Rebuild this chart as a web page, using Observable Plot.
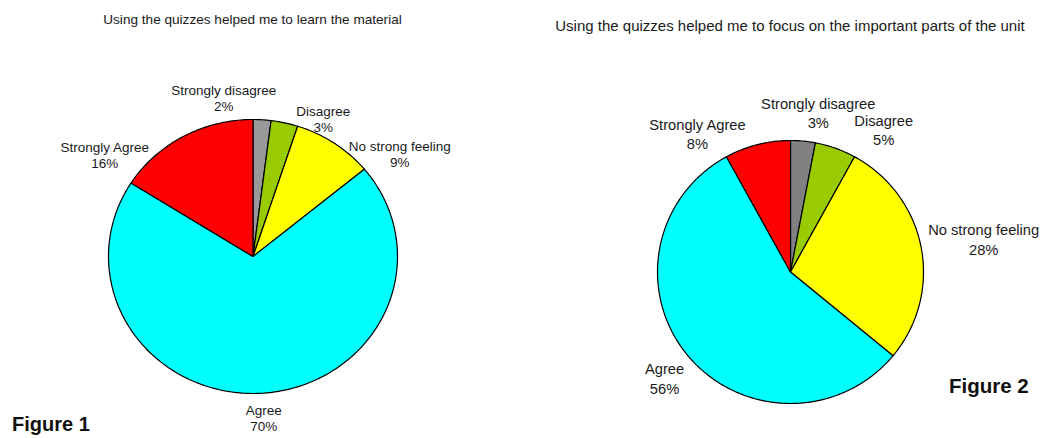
<!DOCTYPE html>
<html>
<head>
<meta charset="utf-8">
<script src="https://cdn.jsdelivr.net/npm/d3@7"></script>
<script src="https://cdn.jsdelivr.net/npm/@observablehq/plot@0.6"></script>
<style>
  html, body { margin: 0; padding: 0; background: #fff; }
  #root { position: relative; width: 1041px; height: 438px; overflow: hidden; font-family: "Liberation Sans", Arial, sans-serif; }
  .fig { position: absolute; top: 0; height: 438px; }
  .fig svg { position: absolute; left: 0; top: 0; overflow: visible; }
  .title { position: absolute; transform: translateX(-50%); text-align: center; color: #1a1a1a; white-space: nowrap; }
  .figlabel { position: absolute; font-weight: bold; color: #111; white-space: nowrap; }
</style>
</head>
<body>
<div id="root"></div>
<script>
// ---- Data ----
const categories = ["Strongly disagree", "Disagree", "No strong feeling", "Agree", "Strongly Agree"];
const learnValues = [2, 3, 9, 70, 16];   // Figure 1 (%)
const focusValues = [3, 5, 28, 56, 8];   // Figure 2 (%)
const titles = [
  "Using the quizzes helped me to learn the material",
  "Using the quizzes helped me to focus on the important parts of the unit"
];
const figureNames = ["Figure 1", "Figure 2"];

// ---- Layout / style (not data) ----
const layouts = [
  {
    left: 0, width: 520, margins: {left: 108, right: 123, top: 119, bottom: 45},
    rxPx: 144.5, ryPx: 137,
    colors: ["#999999", "#99cc00", "#ffff00", "#00ffff", "#ff0000"],
    fontSize: 13.5, lineHeight: 1.19,
    titleTop: 12, titleCenter: 252.5, titleSize: 13.6,
    nudge: [[-40, 3], [33, 20], [51, 31], [0, 0], [-66, 40]],
    figStyle: "left:12px; top:413px; font-size:20px;"
  },
  {
    left: 520, width: 521, margins: {left: 137, right: 118, top: 140, bottom: 35},
    rxPx: 133, ryPx: 131.5,
    colors: ["#808080", "#99cc00", "#ffff00", "#00ffff", "#ff0000"],
    fontSize: 14.7, lineHeight: 1.3,
    titleTop: 16.5, titleCenter: 270, titleSize: 15,
    nudge: [[13, -5], [40, 3], [39, -4], [-5, 7], [-54, 12]],
    figStyle: "left:429px; top:374px; font-size:20.5px;"
  }
];
const labelRadius = 1.18;

const root = document.getElementById("root");

function makePie(values, L, idx) {
  const total = d3.sum(values);
  const slices = [];
  const labels = [];
  let cum = 0;
  values.forEach((v, i) => {
    const a0 = cum / total * 2 * Math.PI;
    const a1 = (cum + v) / total * 2 * Math.PI;
    cum += v;
    const cat = categories[i];
    slices.push({cat, x: 0, y: 0});
    const steps = Math.max(2, Math.ceil((a1 - a0) / (Math.PI / 180)));
    for (let s = 0; s <= steps; s++) {
      const a = a0 + (a1 - a0) * s / steps;
      slices.push({cat, x: Math.sin(a), y: Math.cos(a)});
    }
    const mid = (a0 + a1) / 2;
    const [ndx, ndy] = L.nudge[i];
    labels.push({
      cat,
      text: `${cat}\n${v}%`,
      x: labelRadius * Math.sin(mid) + ndx / L.rxPx,
      y: labelRadius * Math.cos(mid) - ndy / L.ryPx
    });
  });

  const div = document.createElement("div");
  div.className = "fig";
  div.style.left = L.left + "px";
  div.style.width = L.width + "px";

  const t = document.createElement("div");
  t.className = "title";
  t.style.top = L.titleTop + "px";
  t.style.left = L.titleCenter + "px";
  t.style.fontSize = L.titleSize + "px";
  t.textContent = titles[idx];

  const plot = Plot.plot({
    width: L.width,
    height: 438,
    marginLeft: L.margins.left,
    marginRight: L.margins.right,
    marginTop: L.margins.top,
    marginBottom: L.margins.bottom,
    x: {domain: [-1, 1], axis: null},
    y: {domain: [-1, 1], axis: null},
    color: {domain: categories, range: L.colors},
    style: {fontFamily: "'Liberation Sans', Arial, sans-serif", background: "transparent", overflow: "visible"},
    marks: [
      Plot.line(slices, {
        x: "x", y: "y", z: "cat", fill: "cat",
        stroke: "#000", strokeWidth: 1.2, strokeLinejoin: "round",
        curve: "linear-closed"
      }),
      Plot.text(labels, {
        x: "x", y: "y", text: "text",
        fontSize: L.fontSize, lineHeight: L.lineHeight,
        fill: "#1a1a1a", textAnchor: "middle"
      })
    ]
  });

  const f = document.createElement("div");
  f.className = "figlabel";
  f.setAttribute("style", L.figStyle);
  f.textContent = figureNames[idx];

  div.appendChild(plot);
  div.appendChild(t);
  div.appendChild(f);
  root.appendChild(div);
}

makePie(learnValues, layouts[0], 0);
makePie(focusValues, layouts[1], 1);
</script>
</body>
</html>
